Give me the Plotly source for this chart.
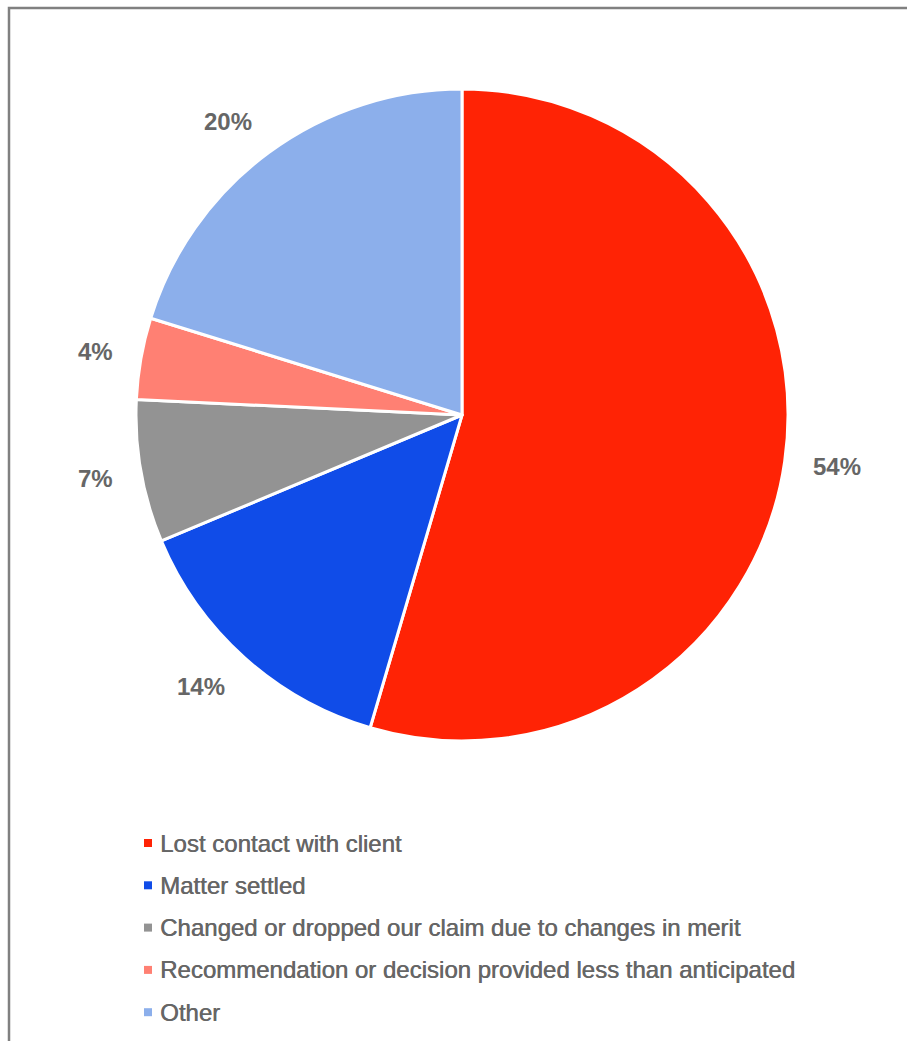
import math
import plotly.graph_objects as go

categories = [
    "Lost contact with client",
    "Matter settled",
    "Changed or dropped our claim due to changes in merit",
    "Recommendation or decision provided less than anticipated",
    "Other",
]
values = [54, 14, 7, 4, 20]
colors = ["#FF2305", "#104CE8", "#939393", "#FF8073", "#8CAFEB"]

W, H = 907, 1041
cx, cy, r = 462, 415, 326  # pie centre and radius in pixels
TEXT = "#666666"
FONT = "Liberation Sans, Arial"
LABEL_SIZE = 24

fig = go.Figure()
fig.add_trace(go.Pie(
    labels=categories,
    values=values,
    sort=False,
    direction="clockwise",
    rotation=0,
    marker=dict(colors=colors, line=dict(color="white", width=3)),
    textinfo="none",
    hoverinfo="label+value",
    showlegend=False,
    domain=dict(x=[(cx - r) / W, (cx + r) / W],
                y=[1 - (cy + r) / H, 1 - (cy - r) / H]),
))

annotations = []
shapes = []

# percentage labels: text box sits just outside a ring around the pie,
# pushed away from the centre along the slice's mid angle
total = sum(values)
cum = 0
ring = r + 29
for v in values:
    mid = (cum + v / 2) / total * 2 * math.pi
    cum += v
    text = f"{v}%"
    ux, uy = math.sin(mid), -math.cos(mid)
    half_w = (0.556 * (len(text) - 1) + 0.889) * LABEL_SIZE / 2
    half_h = 9
    px = cx + ring * ux + math.copysign(half_w, ux)
    py = cy + ring * uy + half_h * uy
    annotations.append(dict(
        x=px / W, y=1 - py / H, xref="paper", yref="paper",
        text=f"<b>{text}</b>", showarrow=False,
        font=dict(family=FONT, size=LABEL_SIZE, color=TEXT),
        xanchor="center", yanchor="middle",
    ))

# legend: small colour squares with the category names beside them
ly0, lstep = 843, 42.3
for i, (name, col) in enumerate(zip(categories, colors)):
    yc = ly0 + i * lstep
    shapes.append(dict(
        type="rect", xref="paper", yref="paper",
        x0=144 / W, x1=152 / W, y0=1 - (yc + 4) / H, y1=1 - (yc - 4) / H,
        fillcolor=col, line=dict(width=0),
    ))
    annotations.append(dict(
        x=158 / W, y=1 - yc / H, xref="paper", yref="paper",
        text=name, showarrow=False,
        font=dict(family=FONT, size=24, color=TEXT,
                  shadow="0.5px 0px 0px #666666"),
        xanchor="left", yanchor="middle",
    ))

# chart frame
shapes.append(dict(type="rect", xref="paper", yref="paper",
                   x0=9 / W, x1=1.05, y0=-0.05, y1=1 - 8 / H,
                   line=dict(color="#808080", width=2.5), layer="below"))

fig.update_layout(
    width=W, height=H,
    margin=dict(l=0, r=0, t=0, b=0),
    paper_bgcolor="white",
    plot_bgcolor="white",
    annotations=annotations,
    shapes=shapes,
    showlegend=False,
)

fig.write_html("out.html")
